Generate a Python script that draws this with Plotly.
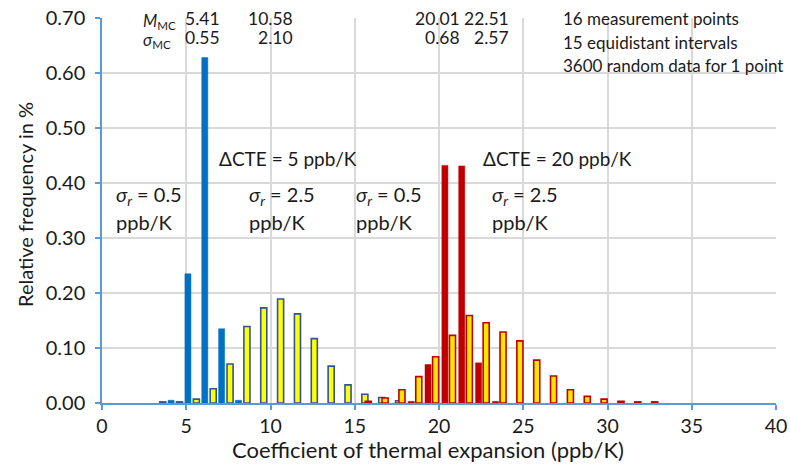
import plotly.graph_objects as go

# Series: sigma_r = 0.5, dCTE = 5 (blue solid)
s1_x = [4.1, 5.1, 6.1, 7.1, 8.1]
s1_y = [0.005, 0.235, 0.628, 0.135, 0.005]

# Series: sigma_r = 2.5, dCTE = 5 (yellow, blue border)
s2_x = [3.6, 4.6, 5.6, 6.6, 7.6, 8.6, 9.6, 10.6, 11.6, 12.6, 13.6, 14.6, 15.6, 16.6, 17.6]
s2_y = [0.002, 0.002, 0.007, 0.026, 0.071, 0.139, 0.173, 0.189, 0.162, 0.117, 0.067,
        0.033, 0.016, 0.010, 0.004]

# Series: sigma_r = 0.5, dCTE = 20 (red solid)
s3_x = [18.35, 19.35, 20.35, 21.35, 22.35, 23.35]
s3_y = [0.003, 0.070, 0.432, 0.431, 0.073, 0.003]

# Series: sigma_r = 2.5, dCTE = 20 (yellow, red border)
s4_x = [15.8, 16.8, 17.8, 18.8, 19.8, 20.8, 21.8, 22.8, 23.8, 24.8, 25.8, 26.8, 27.8,
        28.8, 29.8, 30.8, 31.8, 32.8]
s4_y = [0.003, 0.009, 0.024, 0.048, 0.084, 0.123, 0.159, 0.146, 0.129, 0.113, 0.078,
        0.049, 0.024, 0.012, 0.007, 0.003, 0.002, 0.002]

x_ticks = [0, 5, 10, 15, 20, 25, 30, 35, 40]
y_ticks = [0.0, 0.1, 0.2, 0.3, 0.4, 0.5, 0.6, 0.7]

stats_mean = ["5.41", "10.58", "20.01", "22.51"]
stats_sigma = ["0.55", "2.10", "0.68", "2.57"]

FONT = "Lato"
TXT = "#1a1a1a"
BW = 0.36

fig = go.Figure()
fig.add_trace(go.Bar(x=s2_x, y=s2_y, width=BW,
                     marker=dict(color="#FFFF00", line=dict(color="#2F5597", width=1.6))))
fig.add_trace(go.Bar(x=s4_x, y=s4_y, width=BW,
                     marker=dict(color="#FFE600", line=dict(color="#C00000", width=1.6))))
fig.add_trace(go.Bar(x=s1_x, y=s1_y, width=BW,
                     marker=dict(color="#0070C0", line=dict(color="#0070C0", width=0.5))))
fig.add_trace(go.Bar(x=s3_x, y=s3_y, width=BW,
                     marker=dict(color="#C00000", line=dict(color="#C00000", width=0.5))))

ann = []
def add(text, x, y, xanchor="left", size=18, angle=0, yanchor="middle"):
    ann.append(dict(text=text, x=x, y=y, xref="paper", yref="paper", xanchor=xanchor,
                    yanchor=yanchor, showarrow=False, textangle=angle,
                    font=dict(family=FONT, size=size, color=TXT)))

# plot area in pixels: x 102..776, y 18..403
def px(xp):
    return (xp - 102) / 674.0
def py(yp):
    return (403 - yp) / 385.0

add("<i>M</i><sub>MC</sub>", px(141), py(21), size=16.5)
add("<i>σ</i><sub>MC</sub>", px(141), py(40), size=16.5)
for xr, m, s in zip([222, 295, 462, 511], stats_mean, stats_sigma):
    add(m, px(xr), py(18), xanchor="right", size=17.5)
    add(s, px(xr), py(37), xanchor="right", size=17.5)

add("16 measurement points", px(561), py(18), size=17)
add("15 equidistant intervals", px(561), py(42), size=17)
add("3600 random data for 1 point", px(561), py(65), size=17)

add("ΔCTE = 5 ppb/K", px(217), py(158), size=19)
add("ΔCTE = 20 ppb/K", px(481), py(158), size=19)

for xl, v in zip([114, 247, 354, 490], ["0.5", "2.5", "0.5", "2.5"]):
    add("<i>σ<sub>r</sub></i> = " + v, px(xl), py(195), size=20)
    add("ppb/K", px(xl), py(222), size=20)

# axis titles
add("Coefficient of thermal expansion (ppb/K)", px(428), py(449), xanchor="center", size=22)
add("Relative frequency in %", px(25), py(205), xanchor="center", size=20, angle=-90)

fig.update_layout(
    width=790, height=472,
    margin=dict(l=102, r=14, t=18, b=69, autoexpand=False),
    paper_bgcolor="white", plot_bgcolor="white",
    barmode="overlay", showlegend=False,
    font=dict(family=FONT, size=19, color=TXT),
    annotations=ann,
    xaxis=dict(range=[0, 40], tickvals=x_ticks, ticktext=[str(v) for v in x_ticks],
               showgrid=True, gridcolor="#D9D9D9", gridwidth=1.5,
               showline=True, linecolor="#5B9BD5", linewidth=1.5,
               ticks="outside", tickcolor="#5B9BD5", ticklen=5, tickwidth=1.5,
               zeroline=False, tickfont=dict(size=19.5), automargin=False),
    yaxis=dict(range=[0, 0.70], tickvals=y_ticks, ticktext=["%.2f" % v for v in y_ticks],
               showgrid=True, gridcolor="#D9D9D9", gridwidth=1.5,
               showline=True, linecolor="#5B9BD5", linewidth=1.5,
               ticks="outside", tickcolor="#5B9BD5", ticklen=5, tickwidth=1.5,
               zeroline=False, tickfont=dict(size=20), automargin=False,
               ticklabelstandoff=6),
)

fig.write_html("out.html")
